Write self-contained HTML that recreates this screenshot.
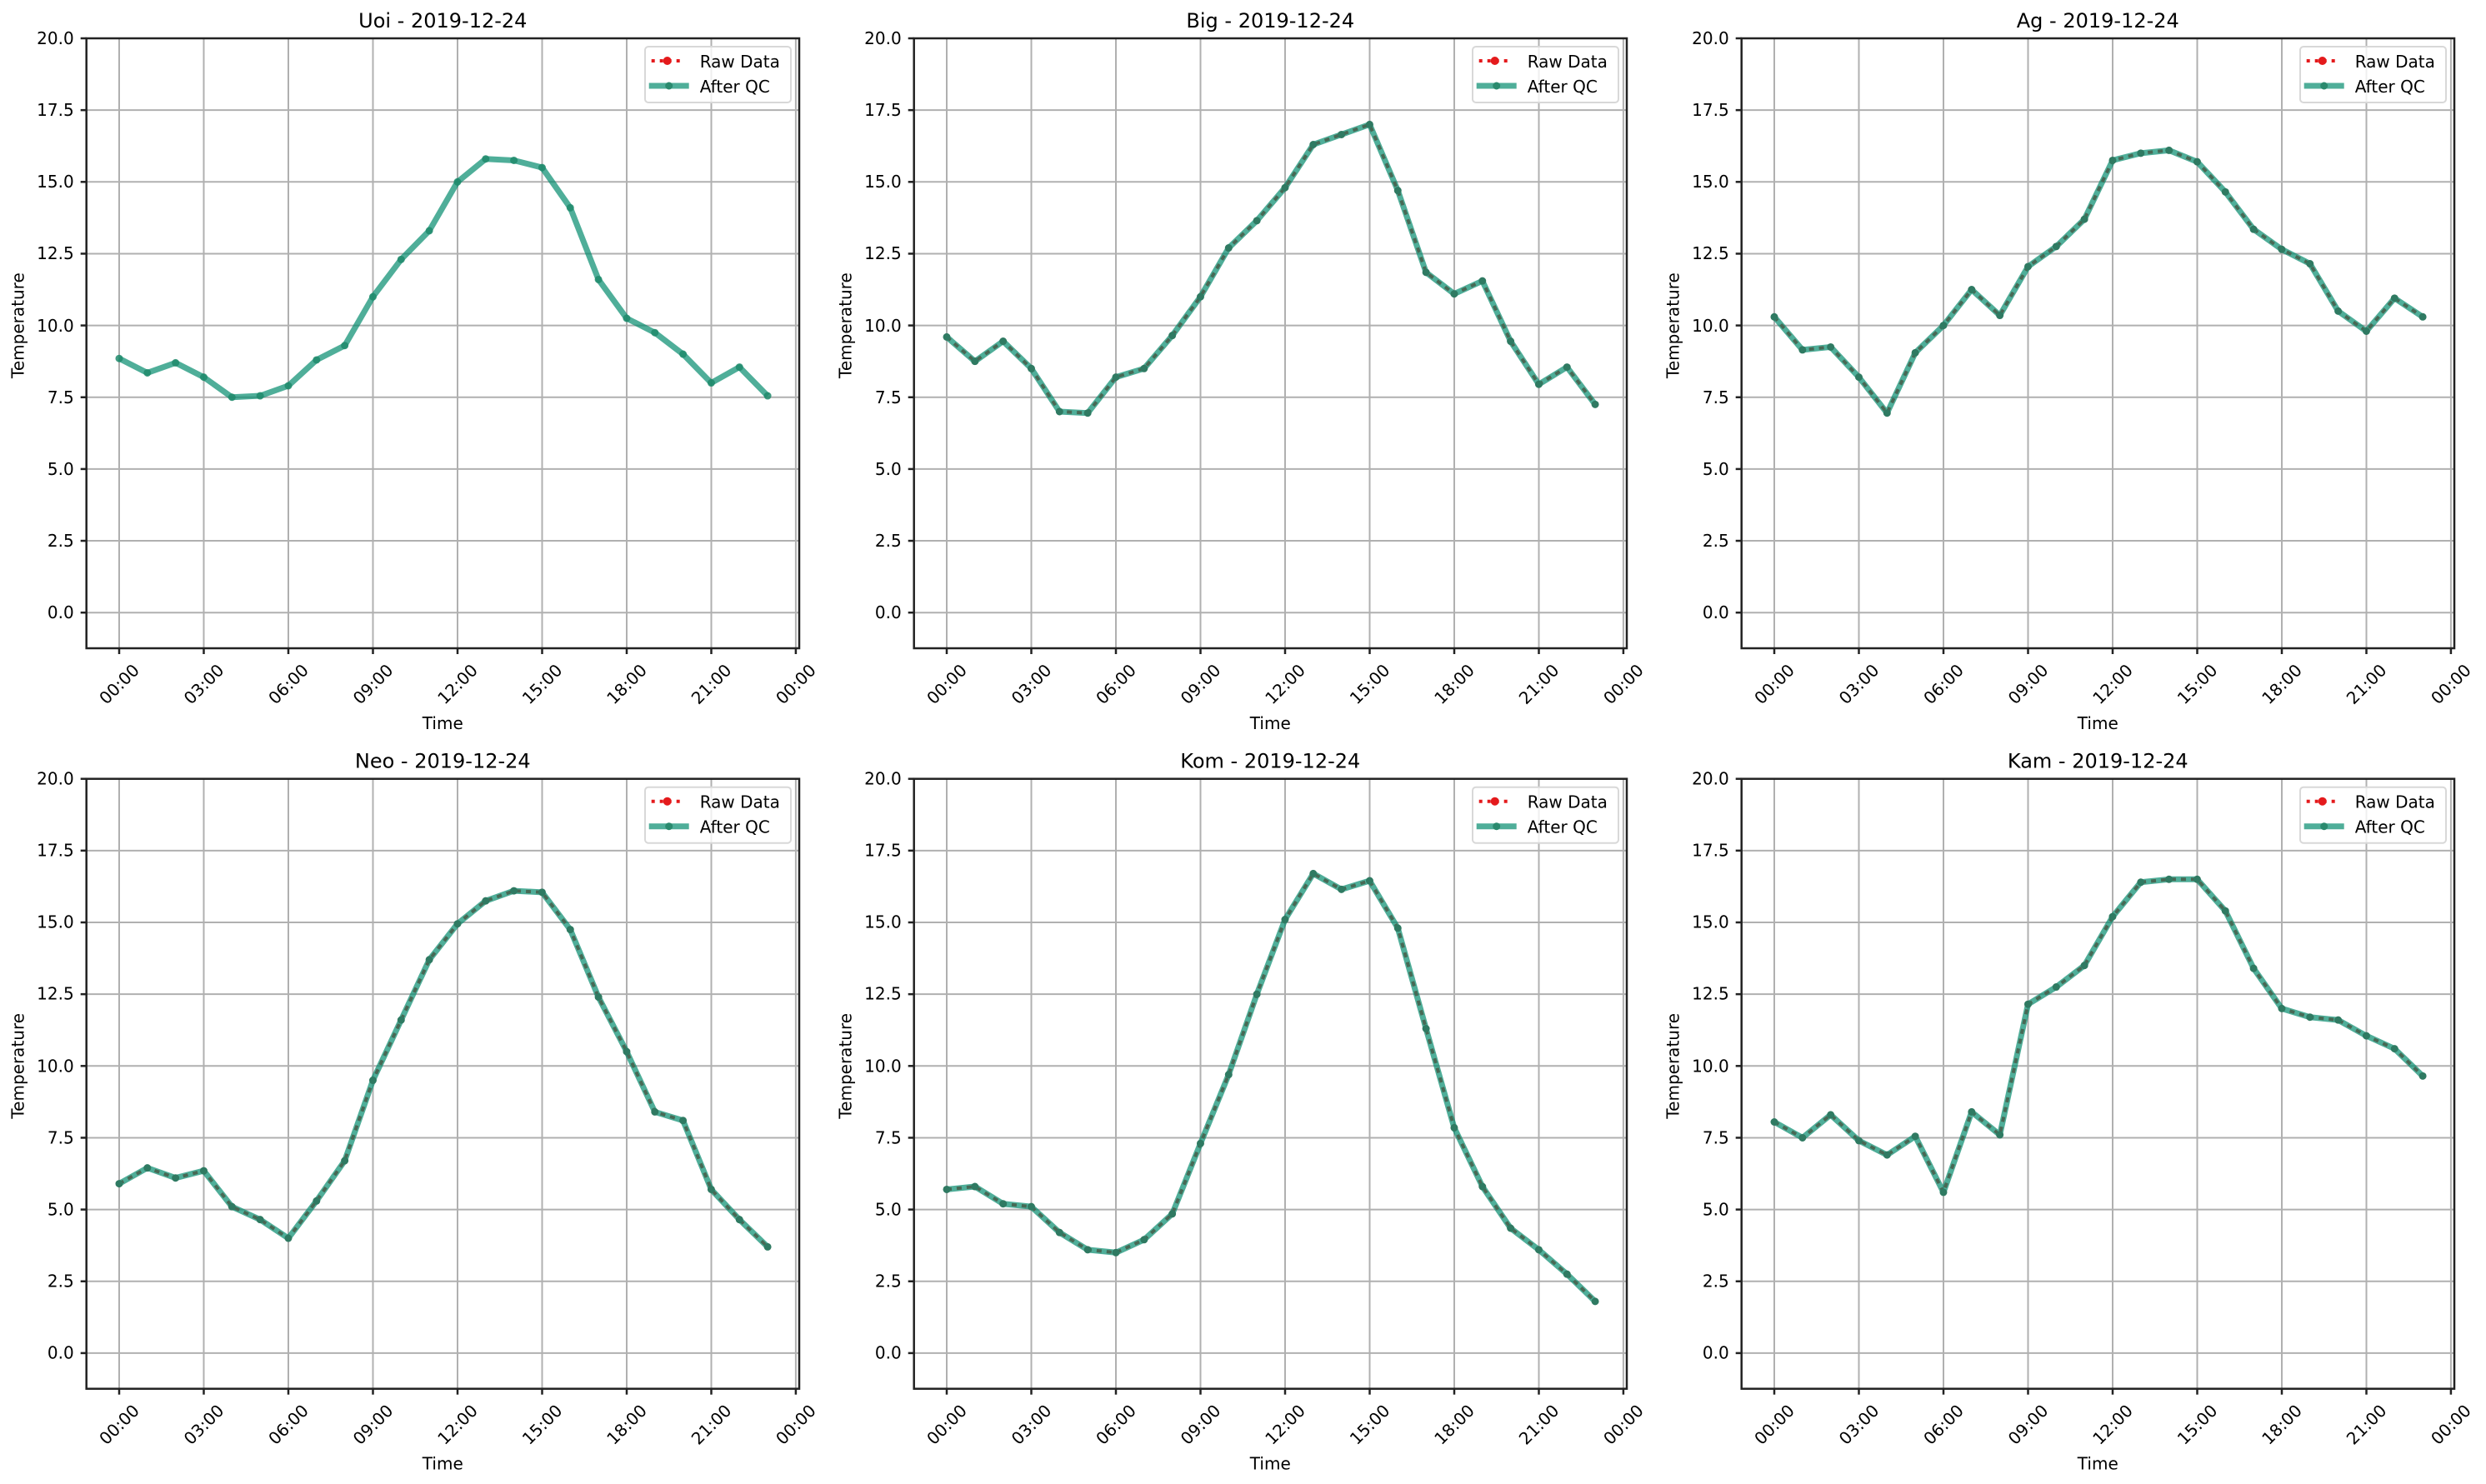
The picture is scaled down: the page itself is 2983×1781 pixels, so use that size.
<!DOCTYPE html>
<html><head><meta charset="utf-8"><style>
html,body{margin:0;padding:0;background:#fff;}
svg{display:block;font-family:"DejaVu Sans","Liberation Sans",sans-serif;}
</style></head><body>
<svg width="2983" height="1781" viewBox="0 0 2983 1781" xmlns="http://www.w3.org/2000/svg">
<rect width="2983" height="1781" fill="#fff"/>
<defs>
<g id="frame">
  <g stroke="#b0b0b0" stroke-width="2">
    <line x1="0" x2="855.3" y1="689.2" y2="689.2"/><line x1="0" x2="855.3" y1="603.05" y2="603.05"/>
    <line x1="0" x2="855.3" y1="516.9" y2="516.9"/><line x1="0" x2="855.3" y1="430.75" y2="430.75"/>
    <line x1="0" x2="855.3" y1="344.6" y2="344.6"/><line x1="0" x2="855.3" y1="258.45" y2="258.45"/>
    <line x1="0" x2="855.3" y1="172.3" y2="172.3"/><line x1="0" x2="855.3" y1="86.15" y2="86.15"/>
    <line x1="39.3" x2="39.3" y1="0" y2="732"/><line x1="140.8" x2="140.8" y1="0" y2="732"/>
    <line x1="242.3" x2="242.3" y1="0" y2="732"/><line x1="343.8" x2="343.8" y1="0" y2="732"/>
    <line x1="445.3" x2="445.3" y1="0" y2="732"/><line x1="546.8" x2="546.8" y1="0" y2="732"/>
    <line x1="648.3" x2="648.3" y1="0" y2="732"/><line x1="749.8" x2="749.8" y1="0" y2="732"/>
    <line x1="851.2" x2="851.2" y1="0" y2="732"/>
  </g>
  <g stroke="#222" stroke-width="2.5">
    <line x1="-7" x2="0" y1="689.2" y2="689.2"/><line x1="-7" x2="0" y1="603.05" y2="603.05"/>
    <line x1="-7" x2="0" y1="516.9" y2="516.9"/><line x1="-7" x2="0" y1="430.75" y2="430.75"/>
    <line x1="-7" x2="0" y1="344.6" y2="344.6"/><line x1="-7" x2="0" y1="258.45" y2="258.45"/>
    <line x1="-7" x2="0" y1="172.3" y2="172.3"/><line x1="-7" x2="0" y1="86.15" y2="86.15"/>
    <line x1="-7" x2="0" y1="0" y2="0"/>
    <line x1="39.3" x2="39.3" y1="732" y2="739"/><line x1="140.8" x2="140.8" y1="732" y2="739"/>
    <line x1="242.3" x2="242.3" y1="732" y2="739"/><line x1="343.8" x2="343.8" y1="732" y2="739"/>
    <line x1="445.3" x2="445.3" y1="732" y2="739"/><line x1="546.8" x2="546.8" y1="732" y2="739"/>
    <line x1="648.3" x2="648.3" y1="732" y2="739"/><line x1="749.8" x2="749.8" y1="732" y2="739"/>
    <line x1="851.2" x2="851.2" y1="732" y2="739"/>
  </g>
</g>
<g id="border"><rect x="0" y="0" width="855.3" height="732" fill="none" stroke="#222" stroke-width="2.5"/></g>
<g id="legend">
  <rect x="670.3" y="10" width="175" height="67" rx="4" fill="#fff" fill-opacity="0.8" stroke="#d8d8d8" stroke-width="2"/>
  <line x1="678" x2="716" y1="27" y2="27" stroke="#e41a1c" stroke-width="4" stroke-dasharray="4 6"/>
  <circle cx="697" cy="27" r="5" fill="#e41a1c"/>
  <line x1="675" x2="723" y1="57" y2="57" stroke="#048b6d" stroke-opacity="0.7" stroke-width="7"/>
  <circle cx="699" cy="57" r="4.5" fill="#2a8a6e"/>
  <text x="736" y="35" font-size="20">Raw Data</text>
  <text x="736" y="65" font-size="20">After QC</text>
</g>
<g id="labels" font-size="20" fill="#000">
  <g text-anchor="end">
    <text x="-15" y="696">0.0</text><text x="-15" y="610">2.5</text><text x="-15" y="524">5.0</text>
    <text x="-15" y="438">7.5</text><text x="-15" y="352">10.0</text><text x="-15" y="265">12.5</text>
    <text x="-15" y="179">15.0</text><text x="-15" y="93">17.5</text><text x="-15" y="7">20.0</text>
  </g>
  <g text-anchor="middle">
    <text transform="translate(39.3,775) rotate(-45)" dy="7">00:00</text>
    <text transform="translate(140.8,775) rotate(-45)" dy="7">03:00</text>
    <text transform="translate(242.3,775) rotate(-45)" dy="7">06:00</text>
    <text transform="translate(343.8,775) rotate(-45)" dy="7">09:00</text>
    <text transform="translate(445.3,775) rotate(-45)" dy="7">12:00</text>
    <text transform="translate(546.8,775) rotate(-45)" dy="7">15:00</text>
    <text transform="translate(648.3,775) rotate(-45)" dy="7">18:00</text>
    <text transform="translate(749.8,775) rotate(-45)" dy="7">21:00</text>
    <text transform="translate(851.2,775) rotate(-45)" dy="7">00:00</text>
    <text x="427.6" y="829">Time</text>
    <text transform="translate(-82,344.6) rotate(-90)" dy="7">Temperature</text>
  </g>
</g>
</defs>

<g transform="translate(103.7,46)">
  <use href="#frame"/>
  <g transform="translate(39.3,689.2) scale(33.83,-34.46)" fill="none">
    <polyline vector-effect="non-scaling-stroke" stroke="#048b6d" stroke-opacity="0.7" stroke-width="7" stroke-linejoin="round" points="0,8.85 1,8.35 2,8.7 3,8.2 4,7.5 5,7.55 6,7.9 7,8.8 8,9.3 9,11.0 10,12.3 11,13.3 12,15.0 13,15.8 14,15.75 15,15.5 16,14.1 17,11.6 18,10.25 19,9.75 20,9.0 21,8.0 22,8.55 23,7.55"/>
    <path vector-effect="non-scaling-stroke" stroke="#1f8a6b" stroke-opacity="0.85" stroke-width="9" stroke-linecap="round" d="M0,8.85h0M1,8.35h0M2,8.7h0M3,8.2h0M4,7.5h0M5,7.55h0M6,7.9h0M7,8.8h0M8,9.3h0M9,11.0h0M10,12.3h0M11,13.3h0M12,15.0h0M13,15.8h0M14,15.75h0M15,15.5h0M16,14.1h0M17,11.6h0M18,10.25h0M19,9.75h0M20,9.0h0M21,8.0h0M22,8.55h0M23,7.55h0"/>
  </g>
  <use href="#border"/><use href="#legend"/><use href="#labels"/>
  <text x="427.6" y="-13" font-size="24" text-anchor="middle">Uoi - 2019-12-24</text>
</g>

<g transform="translate(1096.7,46)">
  <use href="#frame"/>
  <g transform="translate(39.3,689.2) scale(33.83,-34.46)" fill="none">
    <polyline vector-effect="non-scaling-stroke" stroke="#e41a1c" stroke-width="4" stroke-dasharray="6 6" points="0,9.6 1,8.75 2,9.45 3,8.5 4,7.0 5,6.95 6,8.2 7,8.5 8,9.65 9,11.0 10,12.7 11,13.65 12,14.8 13,16.3 14,16.65 15,17.0 16,14.7 17,11.85 18,11.1 19,11.55 20,9.45 21,7.95 22,8.55 23,7.25"/>
    <polyline vector-effect="non-scaling-stroke" stroke="#048b6d" stroke-opacity="0.7" stroke-width="7" stroke-linejoin="round" points="0,9.6 1,8.75 2,9.45 3,8.5 4,7.0 5,6.95 6,8.2 7,8.5 8,9.65 9,11.0 10,12.7 11,13.65 12,14.8 13,16.3 14,16.65 15,17.0 16,14.7 17,11.85 18,11.1 19,11.55 20,9.45 21,7.95 22,8.55 23,7.25"/>
    <path vector-effect="non-scaling-stroke" stroke="#2f7a62" stroke-width="9" stroke-linecap="round" d="M0,9.6h0M1,8.75h0M2,9.45h0M3,8.5h0M4,7.0h0M5,6.95h0M6,8.2h0M7,8.5h0M8,9.65h0M9,11.0h0M10,12.7h0M11,13.65h0M12,14.8h0M13,16.3h0M14,16.65h0M15,17.0h0M16,14.7h0M17,11.85h0M18,11.1h0M19,11.55h0M20,9.45h0M21,7.95h0M22,8.55h0M23,7.25h0"/>
  </g>
  <use href="#border"/><use href="#legend"/><use href="#labels"/>
  <text x="427.6" y="-13" font-size="24" text-anchor="middle">Big - 2019-12-24</text>
</g>

<g transform="translate(2089.7,46)">
  <use href="#frame"/>
  <g transform="translate(39.3,689.2) scale(33.83,-34.46)" fill="none">
    <polyline vector-effect="non-scaling-stroke" stroke="#e41a1c" stroke-width="4" stroke-dasharray="6 6" points="0,10.3 1,9.15 2,9.25 3,8.2 4,6.95 5,9.05 6,10.0 7,11.25 8,10.35 9,12.05 10,12.75 11,13.7 12,15.75 13,16.0 14,16.1 15,15.7 16,14.65 17,13.35 18,12.65 19,12.15 20,10.5 21,9.8 22,10.95 23,10.3"/>
    <polyline vector-effect="non-scaling-stroke" stroke="#048b6d" stroke-opacity="0.7" stroke-width="7" stroke-linejoin="round" points="0,10.3 1,9.15 2,9.25 3,8.2 4,6.95 5,9.05 6,10.0 7,11.25 8,10.35 9,12.05 10,12.75 11,13.7 12,15.75 13,16.0 14,16.1 15,15.7 16,14.65 17,13.35 18,12.65 19,12.15 20,10.5 21,9.8 22,10.95 23,10.3"/>
    <path vector-effect="non-scaling-stroke" stroke="#2f7a62" stroke-width="9" stroke-linecap="round" d="M0,10.3h0M1,9.15h0M2,9.25h0M3,8.2h0M4,6.95h0M5,9.05h0M6,10.0h0M7,11.25h0M8,10.35h0M9,12.05h0M10,12.75h0M11,13.7h0M12,15.75h0M13,16.0h0M14,16.1h0M15,15.7h0M16,14.65h0M17,13.35h0M18,12.65h0M19,12.15h0M20,10.5h0M21,9.8h0M22,10.95h0M23,10.3h0"/>
  </g>
  <use href="#border"/><use href="#legend"/><use href="#labels"/>
  <text x="427.6" y="-13" font-size="24" text-anchor="middle">Ag - 2019-12-24</text>
</g>

<g transform="translate(103.7,934.7)">
  <use href="#frame"/>
  <g transform="translate(39.3,689.2) scale(33.83,-34.46)" fill="none">
    <polyline vector-effect="non-scaling-stroke" stroke="#e41a1c" stroke-width="4" stroke-dasharray="6 6" points="0,5.9 1,6.45 2,6.1 3,6.35 4,5.1 5,4.65 6,4.0 7,5.3 8,6.7 9,9.5 10,11.6 11,13.7 12,14.95 13,15.75 14,16.1 15,16.05 16,14.75 17,12.4 18,10.5 19,8.4 20,8.1 21,5.7 22,4.65 23,3.7"/>
    <polyline vector-effect="non-scaling-stroke" stroke="#048b6d" stroke-opacity="0.7" stroke-width="7" stroke-linejoin="round" points="0,5.9 1,6.45 2,6.1 3,6.35 4,5.1 5,4.65 6,4.0 7,5.3 8,6.7 9,9.5 10,11.6 11,13.7 12,14.95 13,15.75 14,16.1 15,16.05 16,14.75 17,12.4 18,10.5 19,8.4 20,8.1 21,5.7 22,4.65 23,3.7"/>
    <path vector-effect="non-scaling-stroke" stroke="#2f7a62" stroke-width="9" stroke-linecap="round" d="M0,5.9h0M1,6.45h0M2,6.1h0M3,6.35h0M4,5.1h0M5,4.65h0M6,4.0h0M7,5.3h0M8,6.7h0M9,9.5h0M10,11.6h0M11,13.7h0M12,14.95h0M13,15.75h0M14,16.1h0M15,16.05h0M16,14.75h0M17,12.4h0M18,10.5h0M19,8.4h0M20,8.1h0M21,5.7h0M22,4.65h0M23,3.7h0"/>
  </g>
  <use href="#border"/><use href="#legend"/><use href="#labels"/>
  <text x="427.6" y="-13" font-size="24" text-anchor="middle">Neo - 2019-12-24</text>
</g>

<g transform="translate(1096.7,934.7)">
  <use href="#frame"/>
  <g transform="translate(39.3,689.2) scale(33.83,-34.46)" fill="none">
    <polyline vector-effect="non-scaling-stroke" stroke="#e41a1c" stroke-width="4" stroke-dasharray="6 6" points="0,5.7 1,5.8 2,5.2 3,5.1 4,4.2 5,3.6 6,3.5 7,3.95 8,4.85 9,7.3 10,9.7 11,12.5 12,15.1 13,16.7 14,16.15 15,16.45 16,14.8 17,11.3 18,7.85 19,5.8 20,4.35 21,3.6 22,2.75 23,1.8"/>
    <polyline vector-effect="non-scaling-stroke" stroke="#048b6d" stroke-opacity="0.7" stroke-width="7" stroke-linejoin="round" points="0,5.7 1,5.8 2,5.2 3,5.1 4,4.2 5,3.6 6,3.5 7,3.95 8,4.85 9,7.3 10,9.7 11,12.5 12,15.1 13,16.7 14,16.15 15,16.45 16,14.8 17,11.3 18,7.85 19,5.8 20,4.35 21,3.6 22,2.75 23,1.8"/>
    <path vector-effect="non-scaling-stroke" stroke="#2f7a62" stroke-width="9" stroke-linecap="round" d="M0,5.7h0M1,5.8h0M2,5.2h0M3,5.1h0M4,4.2h0M5,3.6h0M6,3.5h0M7,3.95h0M8,4.85h0M9,7.3h0M10,9.7h0M11,12.5h0M12,15.1h0M13,16.7h0M14,16.15h0M15,16.45h0M16,14.8h0M17,11.3h0M18,7.85h0M19,5.8h0M20,4.35h0M21,3.6h0M22,2.75h0M23,1.8h0"/>
  </g>
  <use href="#border"/><use href="#legend"/><use href="#labels"/>
  <text x="427.6" y="-13" font-size="24" text-anchor="middle">Kom - 2019-12-24</text>
</g>

<g transform="translate(2089.7,934.7)">
  <use href="#frame"/>
  <g transform="translate(39.3,689.2) scale(33.83,-34.46)" fill="none">
    <polyline vector-effect="non-scaling-stroke" stroke="#e41a1c" stroke-width="4" stroke-dasharray="6 6" points="0,8.05 1,7.5 2,8.3 3,7.4 4,6.9 5,7.55 6,5.6 7,8.4 8,7.6 9,12.15 10,12.75 11,13.5 12,15.2 13,16.4 14,16.5 15,16.5 16,15.4 17,13.4 18,12.0 19,11.7 20,11.6 21,11.05 22,10.6 23,9.65"/>
    <polyline vector-effect="non-scaling-stroke" stroke="#048b6d" stroke-opacity="0.7" stroke-width="7" stroke-linejoin="round" points="0,8.05 1,7.5 2,8.3 3,7.4 4,6.9 5,7.55 6,5.6 7,8.4 8,7.6 9,12.15 10,12.75 11,13.5 12,15.2 13,16.4 14,16.5 15,16.5 16,15.4 17,13.4 18,12.0 19,11.7 20,11.6 21,11.05 22,10.6 23,9.65"/>
    <path vector-effect="non-scaling-stroke" stroke="#2f7a62" stroke-width="9" stroke-linecap="round" d="M0,8.05h0M1,7.5h0M2,8.3h0M3,7.4h0M4,6.9h0M5,7.55h0M6,5.6h0M7,8.4h0M8,7.6h0M9,12.15h0M10,12.75h0M11,13.5h0M12,15.2h0M13,16.4h0M14,16.5h0M15,16.5h0M16,15.4h0M17,13.4h0M18,12.0h0M19,11.7h0M20,11.6h0M21,11.05h0M22,10.6h0M23,9.65h0"/>
  </g>
  <use href="#border"/><use href="#legend"/><use href="#labels"/>
  <text x="427.6" y="-13" font-size="24" text-anchor="middle">Kam - 2019-12-24</text>
</g>
</svg>
</body></html>
